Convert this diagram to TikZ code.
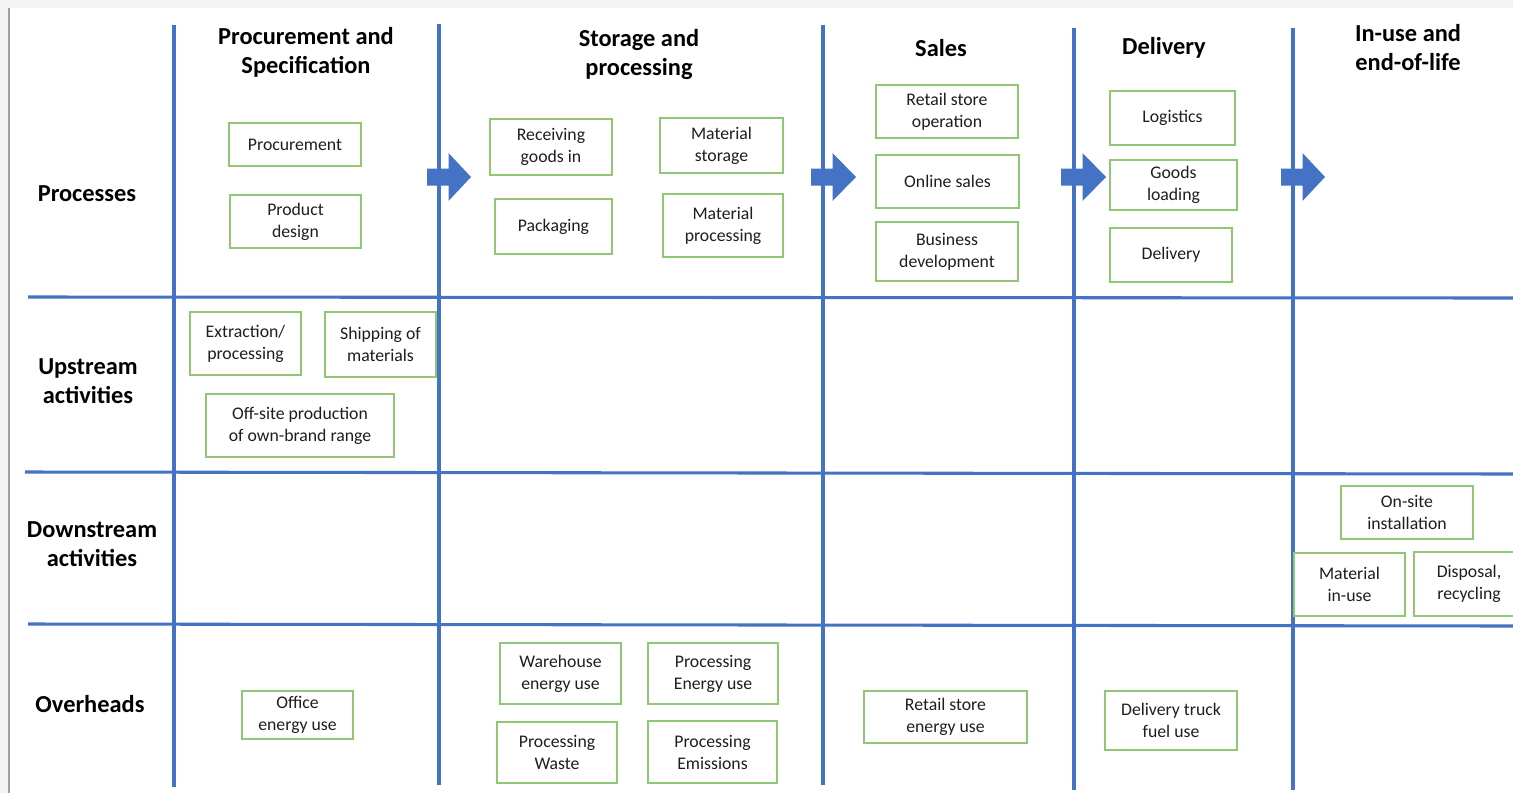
\documentclass[tikz,border=0pt]{standalone}
\usepackage{fontspec}
\setmainfont{Carlito}
\definecolor{gridblue}{HTML}{4472C4}
\definecolor{boxgreen}{HTML}{8FC774}
\definecolor{bggray}{HTML}{F3F3F3}
\definecolor{edgegray}{HTML}{A0A0A0}
\definecolor{txt}{HTML}{1E1E1E}
\tikzset{
  gridline/.style={draw=gridblue, line width=2.3pt},
  flowarrow/.style={fill=gridblue, draw=none},
  box/.style={draw=boxgreen, line width=1.1pt, fill=white, align=center, inner sep=1pt,
    text=txt, font=\fontsize{13.3}{16.5}\selectfont},
  head/.style={align=center, font=\bfseries\fontsize{18.3}{21.75}\selectfont, text=black, inner sep=0pt},
}
\newcommand\bx[6]{\node[box, minimum width={(#4-#2)*0.75pt}, minimum height={(#5-#3)*0.75pt}] (#1) at ({(#2+#4)/2},{(#3+#5)/2}) {#6};}
\newcommand\blockarrow[3]{% x-left, x-tip, y-center
  \fill[flowarrow] (#1,{#3-8.5}) -- ({#1+21.5},{#3-8.5}) -- ({#1+21.5},{#3-24}) -- (#2,#3)
    -- ({#1+21.5},{#3+24}) -- ({#1+21.5},{#3+8.5}) -- (#1,{#3+8.5}) -- cycle;}
\begin{document}
\begin{tikzpicture}[x=0.75pt, y=-0.75pt]
\useasboundingbox (0,0) rectangle (1513,793);
% background
\fill[white] (0,0) rectangle (1513,793);
\fill[bggray] (0,0) rectangle (1513,7.5);
\fill[bggray] (0,0) rectangle (8,793);
\draw[edgegray, line width=0.9pt] (9,7.5) -- (9,793);
% grid
\draw[gridline] (174,25) -- (174,787);
\draw[gridline] (439,24) -- (439,785);
\draw[gridline] (823,25) -- (823,785);
\draw[gridline] (1074,28) -- (1074,790);
\draw[gridline] (1293,28) -- (1293,790);
\draw[gridline] (28,297) -- (1513,298);
\draw[gridline] (25,472) -- (1513,474);
\draw[gridline] (28,624) -- (1513,626);
% block arrows
\blockarrow{427}{471}{177}
\blockarrow{811}{856}{177}
\blockarrow{1061}{1106}{177}
\blockarrow{1281}{1325}{177}
% column headers
\node[head] (h1) at (306,52) {Procurement and\\Specification};
\node[head] (h2) at (639,55) {Storage and\\processing};
\node[head] (h3) at (941,48) {Sales};
\node[head] (h4) at (1164,48) {Delivery};
\node[head] (h5) at (1408,48) {In-use and\\end-of-life};
% row headers
\node[head] (r1) at (87,194) {Processes};
\node[head] (r2) at (88,381) {Upstream\\activities};
\node[head] (r3) at (92,544) {Downstream\\activities};
\node[head] (r4) at (90,704) {Overheads};
% processes
\bx{procurement}{229}{123}{361}{166}{Procurement}
\bx{design}{230}{195}{361}{248}{Product\\design}
\bx{receiving}{490}{119}{612}{175}{Receiving\\goods in}
\bx{storage}{660}{118}{783}{173}{Material\\storage}
\bx{packaging}{495}{199}{612}{254}{Packaging}
\bx{matproc}{663}{194}{783}{257}{Material\\processing}
\bx{retail}{876}{85}{1018}{138}{Retail store\\operation}
\bx{online}{876}{155}{1019}{208}{Online sales}
\bx{business}{876}{222}{1018}{281}{Business\\development}
\bx{logistics}{1110}{91}{1235}{145}{Logistics}
\bx{loading}{1110}{160}{1237}{210}{Goods\\loading}
\bx{delivery}{1110}{228}{1232}{282}{Delivery}
% upstream
\bx{extraction}{190}{312}{301}{375}{Extraction/\\processing}
\bx{shipping}{325}{312}{436}{377}{Shipping of\\materials}
\bx{offsite}{206}{394}{394}{457}{Off-site production\\of own-brand range}
% downstream
\bx{onsite}{1341}{486}{1473}{539}{On-site\\installation}
\bx{inuse}{1294}{553}{1405}{616}{Material\\in-use}
\bx{disposal}{1414}{552}{1524}{616}{Disposal,\\recycling}
% overheads
\bx{warehouse}{500}{643}{621}{704}{Warehouse\\energy use}
\bx{procenergy}{648}{643}{778}{704}{Processing\\Energy use}
\bx{waste}{497}{722}{617}{783}{Processing\\Waste}
\bx{emissions}{648}{721}{777}{783}{Processing\\Emissions}
\bx{office}{242}{691}{353}{739}{Office\\energy use}
\bx{retailenergy}{864}{691}{1027}{743}{Retail store\\energy use}
\bx{truck}{1105}{691}{1237}{750}{Delivery truck\\fuel use}
\end{tikzpicture}
\end{document}
